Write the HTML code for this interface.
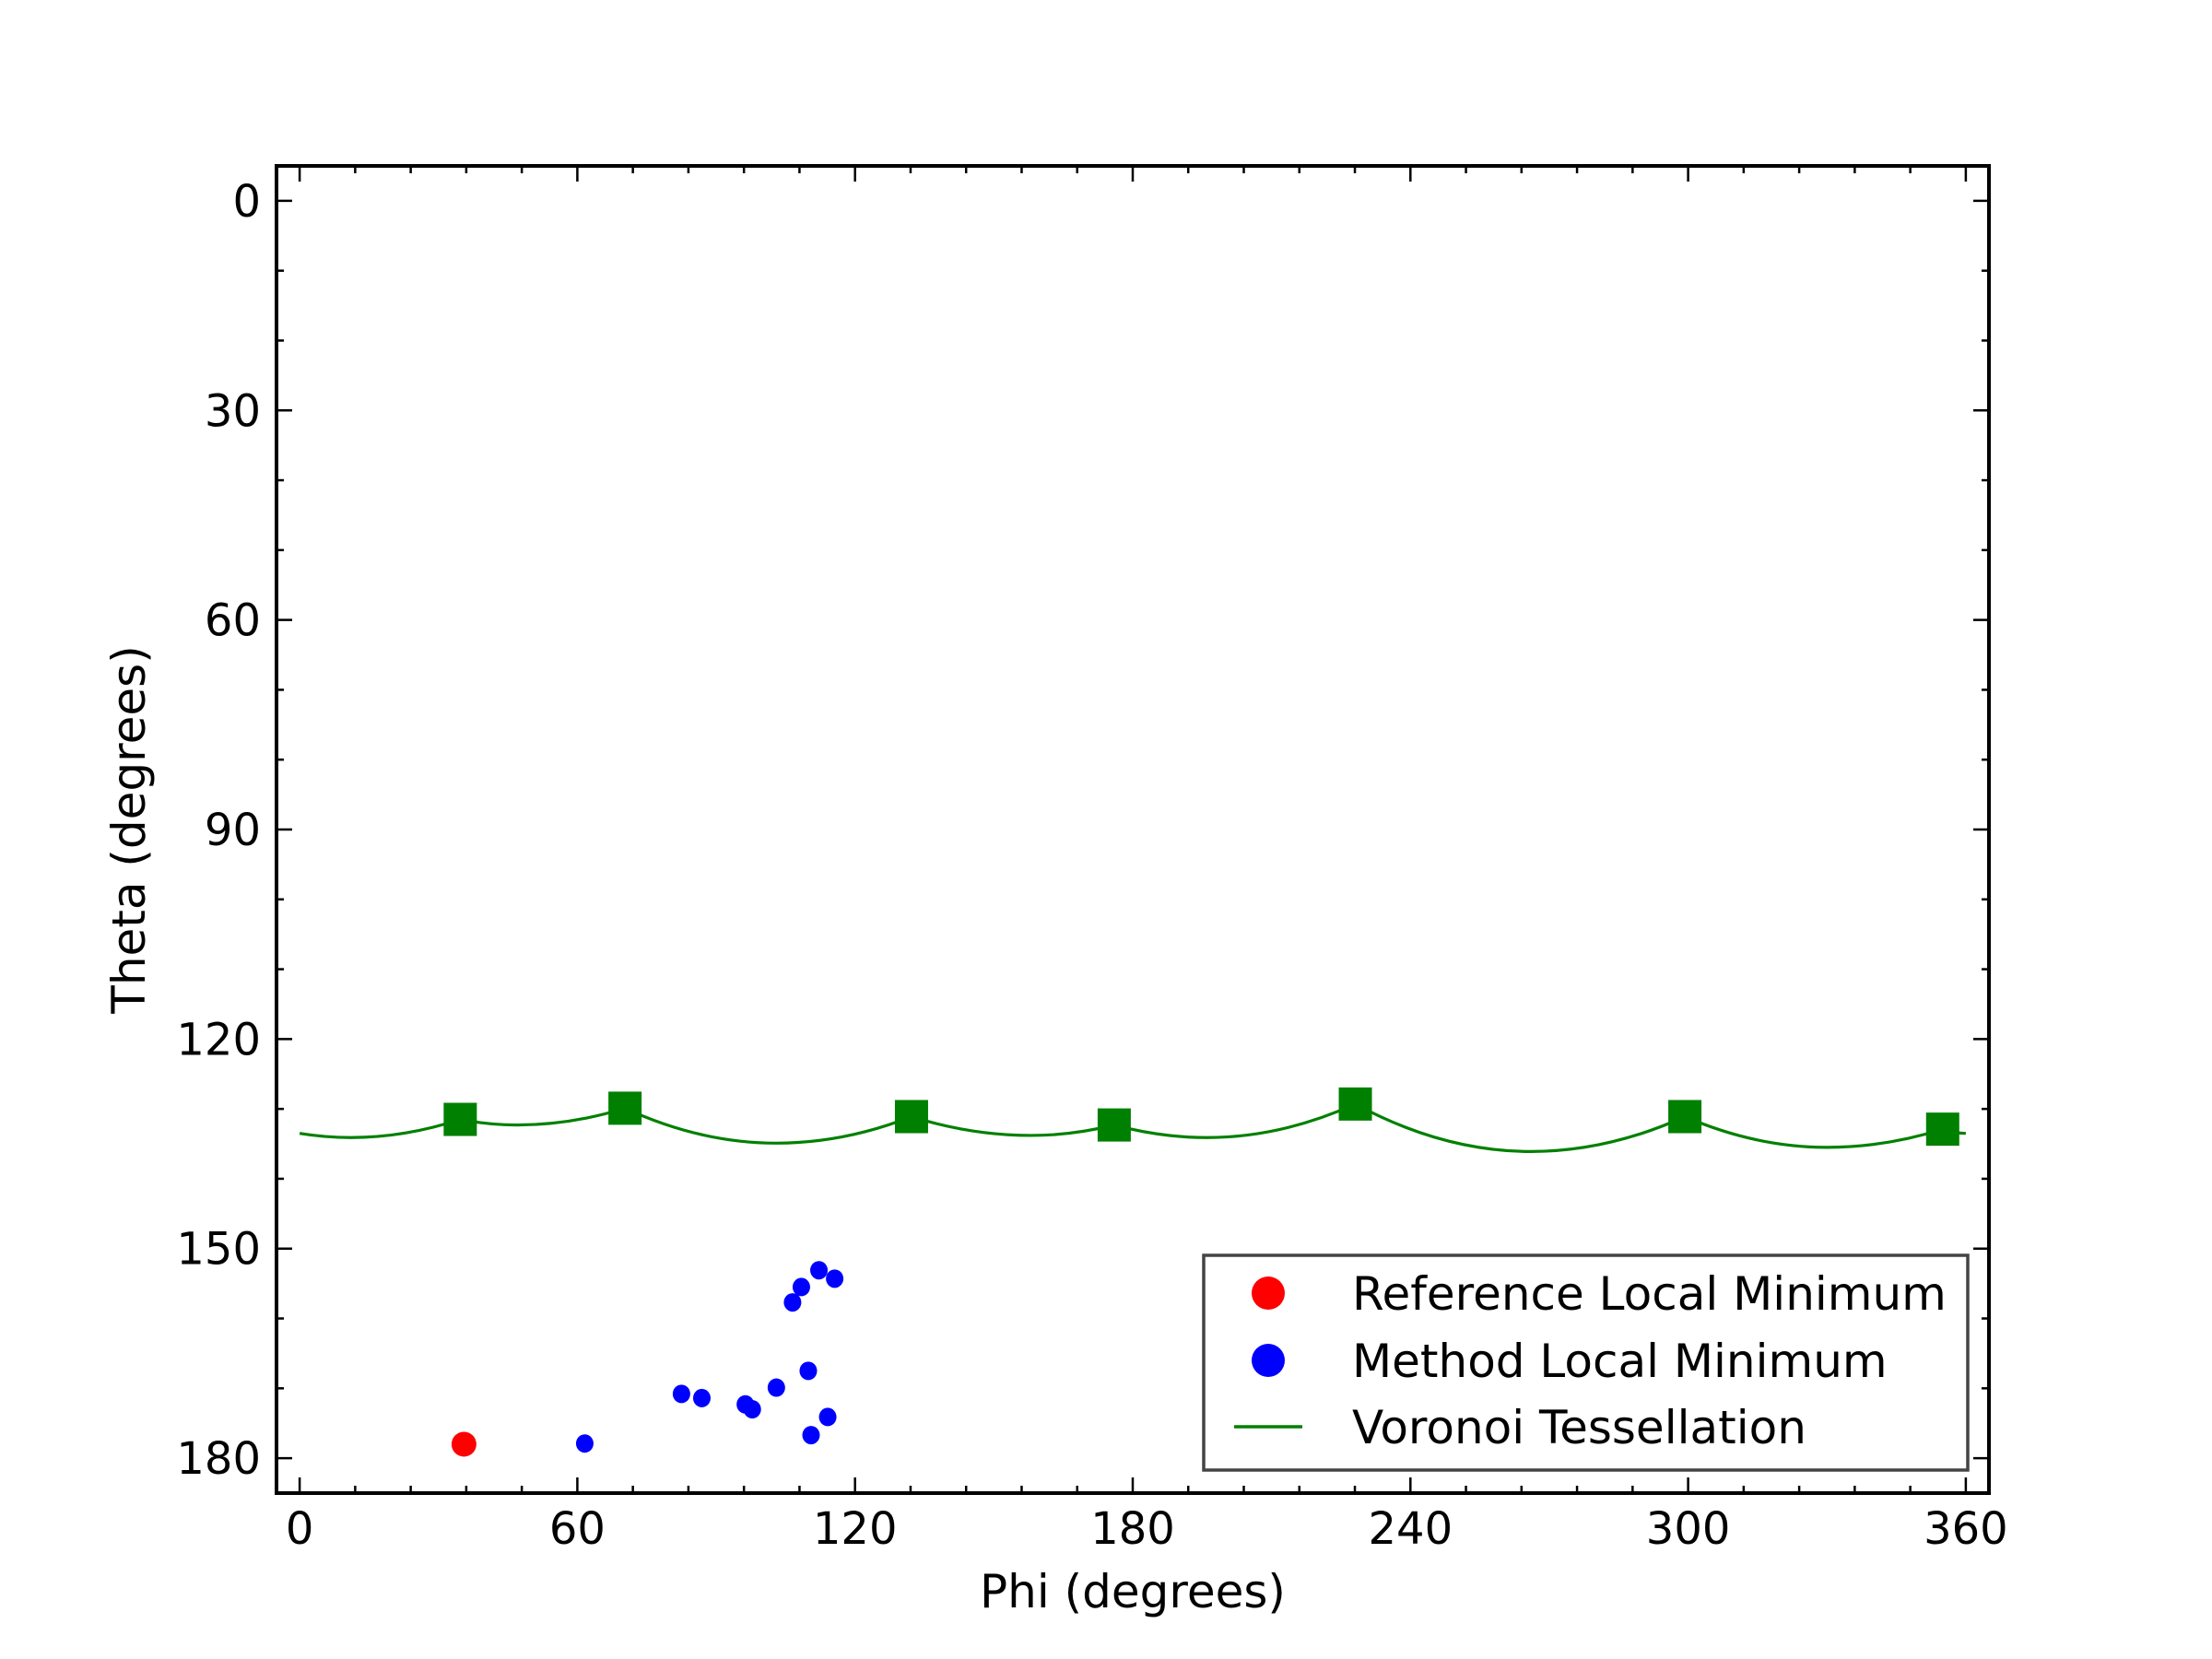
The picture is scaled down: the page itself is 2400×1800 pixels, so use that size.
<!DOCTYPE html>
<html><head><meta charset="utf-8"><style>
html,body{margin:0;padding:0;background:#fff;}
svg{display:block;}
text{font-family:"DejaVu Sans","Liberation Sans",sans-serif;fill:#000;}
</style></head><body>
<svg id="chart" width="2400" height="1800" viewBox="0 0 2400 1800" xmlns="http://www.w3.org/2000/svg">
<rect width="2400" height="1800" fill="#fff"/>
<g id="plot"></g>
</svg>
<script>
const xTicks=[0,60,120,180,240,300,360];
const yTicks=[0,30,60,90,120,150,180];
const refPhi=[35.5];
const refTheta=[178.0];
const methodPhi=[61.6,82.5,86.9,96.3,97.8,103.0,109.9,114.1,110.5,106.5,108.4,112.2,115.6];
const methodTheta=[177.9,170.8,171.4,172.3,173.0,169.9,167.5,174.1,176.7,157.7,155.5,153.1,154.3];
const sitePhi=[34.7,70.3,132.2,176.0,228.1,299.3,355.0];
const siteTheta=[131.5,129.9,131.1,132.3,129.3,131.1,132.9];
// alternating: edge/site points and arc minima (odd indices are minima)
const curvePhi=[0,11,34.7,47,70.3,103,132.2,158,176,196,228.1,266,299.3,330,355,360];
const curveTheta=[133.5,134.1,131.5,132.3,129.9,134.9,131.1,133.8,132.3,134.1,129.3,136.1,131.1,135.5,132.9,133.5];

const L=300,R=2158,T=180,B=1620;
const xMin=-5,xMax=365,yMin=-5,yMax=185;
const X=v=>L+(v-xMin)/(xMax-xMin)*(R-L);
const Y=v=>T+(v-yMin)/(yMax-yMin)*(B-T);
const NS='http://www.w3.org/2000/svg';
const g=document.getElementById('plot');
function mk(tag,attrs,parent){const e=document.createElementNS(NS,tag);for(const k in attrs)e.setAttribute(k,attrs[k]);(parent||g).appendChild(e);return e;}

// curve: parabolic arcs with vertex at each minimum, cusps at sites
const pts=curvePhi.map((p,i)=>[X(p),Y(curveTheta[i])]);
let d='M'+pts[0][0]+','+pts[0][1];
for(let i=0;i<pts.length-1;i++){
  const a=pts[i],b=pts[i+1];
  const minIsB=(i+1)%2===1;
  const m=minIsB?b:a;
  const cx=(a[0]+b[0])/2;
  d+=` Q${cx},${m[1]} ${b[0]},${b[1]}`;
}
const curve=mk('path',{d:d,fill:'none',stroke:'#008000','stroke-width':3.2});



sitePhi.forEach((p,i)=>{
  const r=mk('rect',{x:X(p)-18,y:Y(siteTheta[i])-18,width:36,height:36,fill:'#008000'});
  
  
});
methodPhi.forEach((p,i)=>{
  const c=mk('ellipse',{cx:X(p),cy:Y(methodTheta[i]),rx:9.5,ry:10,fill:'#0000ff'});
  
  
});
refPhi.forEach((p,i)=>{
  const c=mk('ellipse',{cx:X(p),cy:Y(refTheta[i]),rx:13.5,ry:13.5,fill:'#ff0000'});
  
  
});

// ticks
for(let v=0;v<=360;v+=12){
  const major=v%60===0,len=major?17:8,x=X(v);
  const t1=mk('line',{x1:x,y1:B,x2:x,y2:B-len,stroke:'#000','stroke-width':2.5});
  
  
  const t2=mk('line',{x1:x,y1:T,x2:x,y2:T+len,stroke:'#000','stroke-width':2.5});
  
  
}
for(let v=0;v<=180;v+=10){
  const major=v%30===0,len=major?17:8,y=Y(v);
  const t1=mk('line',{x1:L,y1:y,x2:L+len,y2:y,stroke:'#000','stroke-width':2.5});
  
  
  const t2=mk('line',{x1:R,y1:y,x2:R-len,y2:y,stroke:'#000','stroke-width':2.5});
  
  
}
xTicks.forEach(v=>{
  const t=mk('text',{x:X(v),y:1675,'font-size':48,'text-anchor':'middle'});
  t.textContent=v;
  
  
});
yTicks.forEach(v=>{
  const t=mk('text',{x:283,y:Y(v)+17,'font-size':48,'text-anchor':'end'});
  t.textContent=v;
  
  
});

const frame=mk('rect',{x:L,y:T,width:R-L,height:B-T,fill:'none',stroke:'#000','stroke-width':4});



const xl=mk('text',{x:1229,y:1744,'font-size':50,'text-anchor':'middle'});
xl.textContent='Phi (degrees)';


const yl=mk('text',{x:0,y:0,'font-size':50,'text-anchor':'middle',transform:'translate(157,900) rotate(-90)'});
yl.textContent='Theta (degrees)';



// legend
const lg=mk('g',{});


const lb=mk('rect',{x:1306,y:1362,width:829,height:233,fill:'#fff',stroke:'#444','stroke-width':3.5},lg);


const rows=[1403,1476,1548];
const labels=['Reference Local Minimum','Method Local Minimum','Voronoi Tessellation'];
const m1=mk('circle',{cx:1376,cy:rows[0],r:18,fill:'#ff0000'},lg);


const m2=mk('circle',{cx:1376,cy:rows[1],r:18,fill:'#0000ff'},lg);


const m3=mk('line',{x1:1339,y1:rows[2],x2:1413,y2:rows[2],stroke:'#008000','stroke-width':3.5},lg);


labels.forEach((s,i)=>{
  const t=mk('text',{x:1467,y:rows[i]+18,'font-size':50},lg);
  t.textContent=s;
  
  
});
</script>
</body></html>
